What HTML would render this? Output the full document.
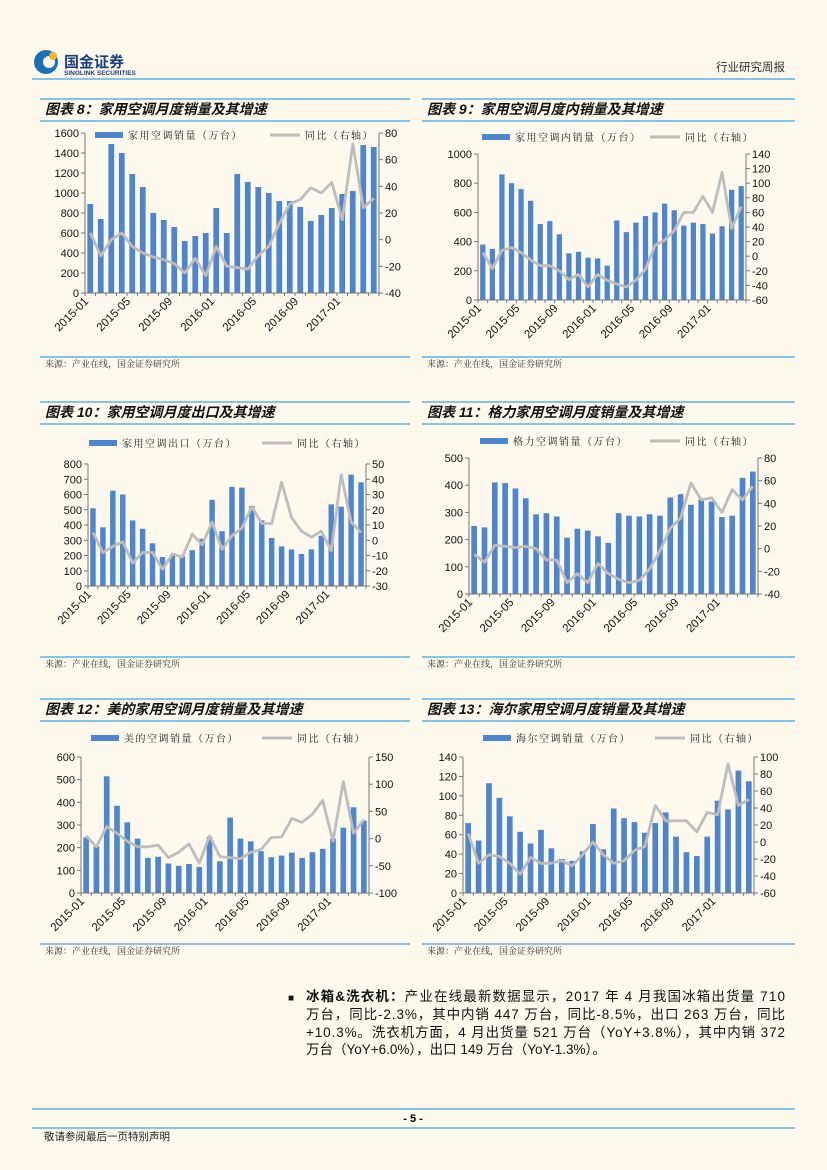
<!DOCTYPE html>
<html><head><meta charset="utf-8">
<style>
html,body{margin:0;padding:0;background:#fdf9ee;}
svg{display:block;font-family:"Liberation Sans","Noto Sans CJK SC",sans-serif;}
</style></head>
<body>
<svg id="page" width="827" height="1170" viewBox="0 0 827 1170">
<rect width="827" height="1170" fill="#fdf9ee"/>
<g>
  <circle cx="46" cy="62" r="12" fill="#1f6fb5"/>
  <circle cx="49" cy="62" r="6" fill="#fdf9ee"/>
  <circle cx="53" cy="56" r="4" fill="#f1b82d"/>
  <text x="64" y="67" font-size="15" font-weight="bold" fill="#1d3f7a" font-family="Noto Sans CJK SC,sans-serif">国金证券</text>
  <text x="64" y="75" font-size="6.5" font-weight="bold" fill="#1d3f7a">SINOLINK SECURITIES</text>
</g>
<text x="785" y="71" font-size="11.5" text-anchor="end" fill="#333" font-family="Noto Sans CJK SC,sans-serif">行业研究周报</text>
<line x1="32" y1="79" x2="795" y2="79" stroke="#4aa3d5" stroke-width="1.2"/>
<g id="charts"></g>
<g font-size="13.5" fill="#111" font-family="Liberation Sans,Noto Sans CJK SC,sans-serif">
  <text x="288" y="1001" font-size="10">■</text>
  <text x="306" y="1001" textLength="479" lengthAdjust="spacing"><tspan font-weight="bold">冰箱&amp;洗衣机：</tspan>产业在线最新数据显示，2017 年 4 月我国冰箱出货量 710</text>
  <text x="306" y="1019" textLength="479" lengthAdjust="spacing">万台，同比-2.3%，其中内销 447 万台，同比-8.5%，出口 263 万台，同比</text>
  <text x="306" y="1037" textLength="479" lengthAdjust="spacing">+10.3%。洗衣机方面，4 月出货量 521 万台（YoY+3.8%），其中内销 372</text>
  <text x="306" y="1054">万台（YoY+6.0%），出口 149 万台（YoY-1.3%）。</text>
</g>
<line x1="32" y1="1109" x2="795" y2="1109" stroke="#4aa3d5" stroke-width="1.2"/>
<text x="413" y="1122" font-size="11" font-weight="bold" text-anchor="middle">- 5 -</text>
<line x1="32" y1="1128" x2="795" y2="1128" stroke="#4aa3d5" stroke-width="1.2"/>
<text x="44" y="1140" font-size="10.5" fill="#222" font-family="Noto Sans CJK SC,sans-serif">敬请参阅最后一页特别声明</text>
</svg>
<script>
const months = ["2015-01","2015-02","2015-03","2015-04","2015-05","2015-06","2015-07","2015-08","2015-09","2015-10","2015-11","2015-12","2016-01","2016-02","2016-03","2016-04","2016-05","2016-06","2016-07","2016-08","2016-09","2016-10","2016-11","2016-12","2017-01","2017-02","2017-03","2017-04"];

const c8Bars = [890,740,1490,1400,1190,1060,800,730,660,520,570,600,850,600,1190,1110,1060,1000,920,920,860,720,780,850,990,1020,1480,1460];
const c8Yoy = [5,-12,0,5,-5,-10,-13,-15,-18,-25,-14,-27,-5,-20,-21,-22,-12,-5,12,27,30,39,35,43,15,72,24,31];
const c8LeftTicks = [0,200,400,600,800,1000,1200,1400,1600];
const c8RightTicks = [-40,-20,0,20,40,60,80];

const c9Bars = [380,350,860,800,760,680,520,540,450,320,330,290,285,235,545,465,530,575,600,660,615,510,530,520,455,505,755,780];
const c9Yoy = [5,-17,8,12,5,-5,-13,-13,-20,-32,-25,-42,-25,-33,-38,-42,-33,-18,15,22,35,60,60,82,60,115,38,68];
const c9LeftTicks = [0,200,400,600,800,1000];
const c9RightTicks = [-60,-40,-20,0,20,40,60,80,100,120,140];

const c10Bars = [510,385,625,600,430,375,280,190,205,195,235,310,565,360,650,645,525,430,315,260,240,210,240,330,535,520,730,680];
const c10Yoy = [5,-8,-4,-1,-15,-8,-8,-19,-9,-11,4,-3,12,-6,3,8,22,11,11,38,15,6,2,6,-7,43,12,5];
const c10LeftTicks = [0,100,200,300,400,500,600,700,800];
const c10RightTicks = [-30,-20,-10,0,10,20,30,40,50];

const c11Bars = [250,245,410,408,388,352,293,297,285,207,240,233,212,188,297,288,285,293,288,355,367,328,348,340,283,288,427,450];
const c11Yoy = [-5,-12,3,2,1,2,0,-10,-10,-30,-22,-30,-13,-22,-27,-30,-28,-18,-2,18,27,58,43,45,32,52,43,55];
const c11LeftTicks = [0,100,200,300,400,500];
const c11RightTicks = [-40,-20,0,20,40,60,80];

const c12Bars = [245,205,515,385,312,240,155,160,130,120,128,115,248,140,333,240,228,185,158,165,178,155,180,195,240,288,378,320];
const c12Yoy = [5,-15,22,10,-5,-15,-15,-12,-35,-25,-10,-45,5,-33,-35,-37,-25,-20,2,3,37,30,45,70,-5,105,10,35];
const c12LeftTicks = [0,100,200,300,400,500,600];
const c12RightTicks = [-100,-50,0,50,100,150];

const c13Bars = [72,54,113,98,79,63,51,65,46,35,33,43,71,45,87,77,73,62,72,83,58,42,38,58,95,86,126,115];
const c13Yoy = [10,-25,-15,-17,-25,-38,-18,-25,-25,-22,-28,-15,0,-15,-25,-22,-10,-5,43,25,25,25,12,35,32,92,43,50];
const c13LeftTicks = [0,20,40,60,80,100,120,140];
const c13RightTicks = [-60,-40,-20,0,20,40,60,80,100];

const NS = "http://www.w3.org/2000/svg";
const root = document.getElementById("charts");
function mk(tag, attrs, parent){
  const e = document.createElementNS(NS, tag);
  for (const k in attrs) e.setAttribute(k, attrs[k]);
  (parent||root).appendChild(e);
  return e;
}

function drawChart(cfg){
  const g = mk("g", {});
  
  
  const r1 = mk("line",{x1:cfg.px,y1:cfg.ty-10,x2:cfg.px+cfg.pw,y2:cfg.ty-10,stroke:"#4aa3d5","stroke-width":1.2},g);
  
  
  const t = mk("text",{x:cfg.px+5,y:cfg.ty+5,"font-size":14,"font-weight":"bold","font-style":"italic",fill:"#111","font-family":"Liberation Sans,Noto Sans CJK SC,sans-serif"},g);
  t.textContent = cfg.title;
  
  
  const r2 = mk("line",{x1:cfg.px,y1:cfg.ty+12,x2:cfg.px+cfg.pw,y2:cfg.ty+12,stroke:"#4aa3d5","stroke-width":1.2},g);
  
  
  const r3 = mk("line",{x1:cfg.px,y1:cfg.sy-7,x2:cfg.px+cfg.pw,y2:cfg.sy-7,stroke:"#4aa3d5","stroke-width":1.2},g);
  
  
  const s = mk("text",{x:cfg.px+5,y:cfg.sy+3,"font-size":9,fill:"#333","font-family":"Noto Serif CJK SC,Noto Sans CJK SC,serif"},g);
  s.textContent = "来源：产业在线，国金证券研究所";
  
  

  const L=cfg.l, R=cfg.r, T=cfg.t, B=cfg.b;
  const n = cfg.cats.length, bw = (R-L)/n;
  const lt = cfg.lTicks, rt = cfg.rTicks;
  const yL = v => B - (v-lt[0])/(lt[lt.length-1]-lt[0])*(B-T);
  const yR = v => B - (v-rt[0])/(rt[rt.length-1]-rt[0])*(B-T);
  const xC = i => L + bw*(i+0.5);

  cfg.bars.forEach((v,i)=>{
    const w = bw*0.55;
    const b = mk("rect",{x:xC(i)-w/2,y:yL(v),width:w,height:B-yL(v),fill:"#4f86cb"},g);
    
    
  });
  let d = "";
  cfg.yoy.forEach((v,i)=>{ d += (i?"L":"M")+xC(i).toFixed(1)+","+yR(v).toFixed(1); });
  const p = mk("path",{d:d,fill:"none",stroke:"#bdbdbd","stroke-width":2.8,"stroke-linejoin":"round"},g);
  
  

  const ax = mk("path",{d:`M${L},${T}V${B}H${R}V${T}`,fill:"none",stroke:"#777","stroke-width":1},g);
  
  
  lt.forEach(v=>{
    mk("line",{x1:L-4,y1:yL(v),x2:L,y2:yL(v),stroke:"#777"},g);
    const tx = mk("text",{x:L-6,y:yL(v)+4,"font-size":11,"text-anchor":"end",fill:"#111"},g);
    tx.textContent = v;
    
    
  });
  rt.forEach(v=>{
    mk("line",{x1:R,y1:yR(v),x2:R+4,y2:yR(v),stroke:"#777"},g);
    const tx = mk("text",{x:R+6,y:yR(v)+4,"font-size":11,"text-anchor":"start",fill:"#111"},g);
    tx.textContent = v;
    
    
  });
  for (let i=0;i<=n;i++) mk("line",{x1:L+bw*i,y1:B,x2:L+bw*i,y2:B+3,stroke:"#777"},g);
  cfg.cats.forEach((c,i)=>{
    if (i%4!==0) return;
    const x = L+bw*i;
    const tx = mk("text",{x:x+4,y:B+9,"font-size":11.5,"text-anchor":"end",fill:"#111",transform:`rotate(-45 ${x+4} ${B+9})`},g);
    tx.textContent = c;
    
    
  });
  const lg = mk("g",{},g);
  
  
  mk("rect",{x:cfg.lx1,y:cfg.ly-3,width:28,height:6,fill:"#4f86cb"},lg);
  const l1 = mk("text",{x:cfg.lx1+33,y:cfg.ly+4,"font-size":10,"letter-spacing":1.5,fill:"#222","font-family":"Noto Serif CJK SC,Noto Sans CJK SC,serif"},lg);
  l1.textContent = cfg.barLabel;
  
  
  mk("line",{x1:cfg.lx2,y1:cfg.ly,x2:cfg.lx2+30,y2:cfg.ly,stroke:"#bdbdbd","stroke-width":3},lg);
  const l2 = mk("text",{x:cfg.lx2+35,y:cfg.ly+4,"font-size":10,"letter-spacing":1.5,fill:"#222","font-family":"Noto Serif CJK SC,Noto Sans CJK SC,serif"},lg);
  l2.textContent = "同比（右轴）";
  
  
}

drawChart({name:"chart-8",title:"图表 8：家用空调月度销量及其增速",px:40,pw:370,ty:109,sy:364,l:85,r:379,t:133,b:293,cats:months,bars:c8Bars,yoy:c8Yoy,lTicks:c8LeftTicks,rTicks:c8RightTicks,lx1:95,lx2:270,ly:135,barLabel:"家用空调销量（万台）"});
drawChart({name:"chart-9",title:"图表 9：家用空调月度内销量及其增速",px:422,pw:373,ty:109,sy:364,l:478,r:746,t:154,b:300,cats:months,bars:c9Bars,yoy:c9Yoy,lTicks:c9LeftTicks,rTicks:c9RightTicks,lx1:482,lx2:650,ly:137,barLabel:"家用空调内销量（万台）"});
drawChart({name:"chart-10",title:"图表 10：家用空调月度出口及其增速",px:40,pw:370,ty:412,sy:664,l:88,r:366,t:464,b:586,cats:months,bars:c10Bars,yoy:c10Yoy,lTicks:c10LeftTicks,rTicks:c10RightTicks,lx1:89,lx2:262,ly:443,barLabel:"家用空调出口（万台）"});
drawChart({name:"chart-11",title:"图表 11：格力家用空调月度销量及其增速",px:422,pw:373,ty:412,sy:664,l:469,r:758,t:458,b:594,cats:months,bars:c11Bars,yoy:c11Yoy,lTicks:c11LeftTicks,rTicks:c11RightTicks,lx1:480,lx2:650,ly:441,barLabel:"格力空调销量（万台）"});
drawChart({name:"chart-12",title:"图表 12：美的家用空调月度销量及其增速",px:40,pw:370,ty:709,sy:951,l:81,r:369,t:757,b:893,cats:months,bars:c12Bars,yoy:c12Yoy,lTicks:c12LeftTicks,rTicks:c12RightTicks,lx1:91,lx2:262,ly:738,barLabel:"美的空调销量（万台）"});
drawChart({name:"chart-13",title:"图表 13：海尔家用空调月度销量及其增速",px:422,pw:373,ty:709,sy:951,l:463,r:754,t:757,b:893,cats:months,bars:c13Bars,yoy:c13Yoy,lTicks:c13LeftTicks,rTicks:c13RightTicks,lx1:483,lx2:655,ly:738,barLabel:"海尔空调销量（万台）"});
</script>
</body></html>
